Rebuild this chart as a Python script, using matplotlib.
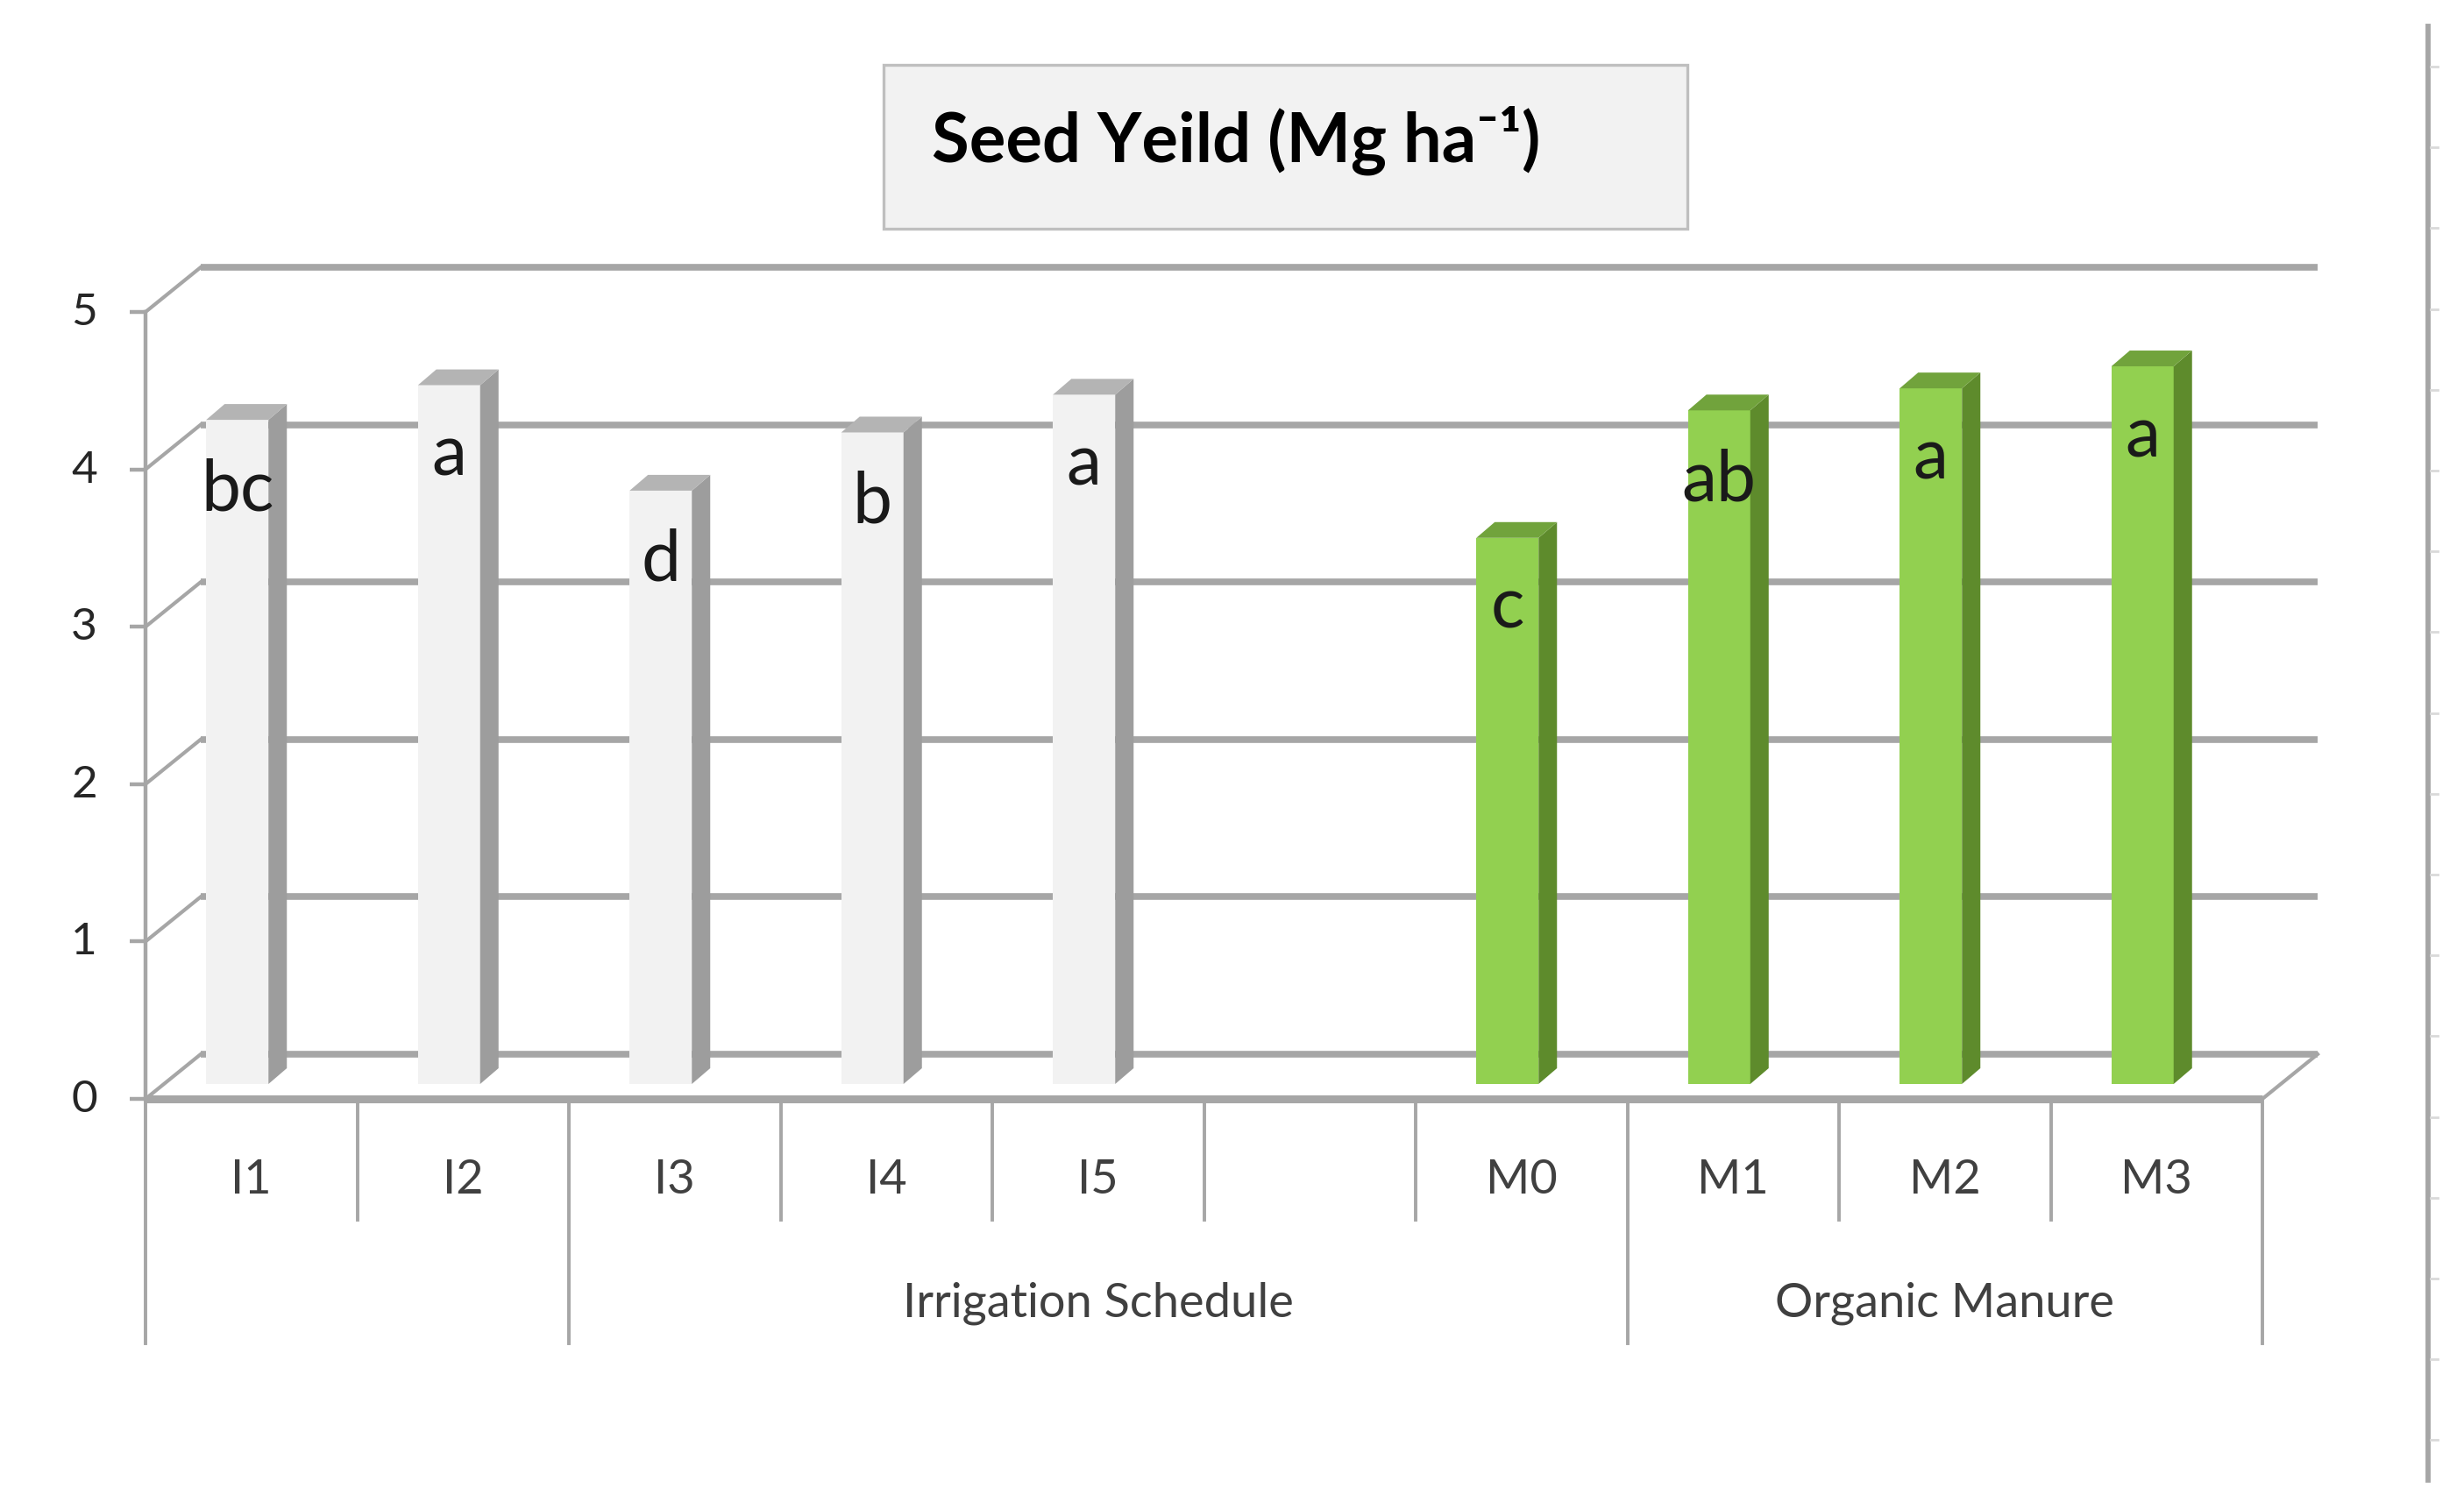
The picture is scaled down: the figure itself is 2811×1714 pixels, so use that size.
import matplotlib
matplotlib.use("Agg")
import matplotlib.pyplot as plt
from matplotlib.patches import Polygon, Rectangle
from matplotlib.lines import Line2D

plt.rcParams['font.family'] = ['Lato', 'DejaVu Sans']

# ---------------- data ----------------
categories = ["I1", "I2", "I3", "I4", "I5", "", "M0", "M1", "M2", "M3"]
seed_yield = [4.22, 4.44, 3.77, 4.14, 4.38, None, 3.47, 4.28, 4.42, 4.56]
letters = ["bc", "a", "d", "b", "a", "", "c", "ab", "a", "a"]
group_names = ["", "Irrigation Schedule", "Organic Manure"]
group_bounds = [(0, 2), (2, 7), (7, 10)]
y_ticks = [0, 1, 2, 3, 4, 5]
title = "Seed Yeild (Mg ha\u207b\u00b9)"

# ---------------- figure geometry ----------------
W, H, DPI = 2811, 1715, 100
fig = plt.figure(figsize=(W / DPI, H / DPI), dpi=DPI)
fig.patch.set_facecolor("white")

AX_L, AX_R, AX_B, AX_T = 150, 2565, 1238, 340   # pixel box of the bar plane
ax = fig.add_axes([AX_L / W, (H - AX_B) / H, (AX_R - AX_L) / W, (AX_B - AX_T) / H])
ax.set_xlim(-0.5, 9.5)
ax.set_ylim(0, 5)
ax.axis("off")

XU = (AX_R - AX_L) / 10.0     # px per category
YU = (AX_B - AX_T) / 5.0      # px per unit


def dx(p):
    return p / XU


def dy(p):
    return p / YU


def pt(p):
    return p * 72.0 / DPI


FX, FY = dx(16), dy(-17)      # front plane offset
BX, BY = dx(79), dy(34)       # back wall offset

GRID = "#A6A6A6"
TXT = "#404040"

# back wall gridlines
for v in y_ticks:
    ax.plot([-0.5 + BX, 9.5 + BX], [v + BY, v + BY], color=GRID, lw=5.5,
            solid_capstyle="butt", clip_on=False, zorder=1)
    # side wall diagonals
    ax.plot([-0.5 + FX, -0.5 + BX], [v + FY, v + BY], color=GRID, lw=3,
            clip_on=False, zorder=1)
    # ticks on front axis
    ax.plot([-0.5 + FX - dx(18), -0.5 + FX], [v + FY, v + FY], color=GRID,
            lw=3.2, solid_capstyle="butt", clip_on=False, zorder=2)
    ax.text(-0.5 + FX - dx(55), v + FY, str(v), ha="right", va="center",
            fontsize=37, color="#262626")

# front vertical axis
ax.plot([-0.5 + FX, -0.5 + FX], [FY, 5 + FY], color=GRID, lw=3.2,
        clip_on=False, zorder=2)
# floor front edge and right diagonal
ax.plot([-0.5 + FX, 9.5 + FX], [FY, FY], color=GRID, lw=6.5,
        solid_capstyle="butt", clip_on=False, zorder=2)
ax.plot([9.5 + FX, 9.5 + BX], [FY, BY], color=GRID, lw=3,
        clip_on=False, zorder=2)

# ---------------- bars ----------------
BW = dx(71)
DDX, DDY = dx(21), dy(18)
for i, (cat, v, lab) in enumerate(zip(categories, seed_yield, letters)):
    if v is None:
        continue
    if cat.startswith("M"):
        fc, sc, tc = "#92D050", "#5E8B2C", "#71A33C"
    else:
        fc, sc, tc = "#F2F2F2", "#9D9D9D", "#B4B4B4"
    ax.bar(i, v, width=BW, color=fc, edgecolor="none", zorder=3)
    xr = i + BW / 2
    xl = i - BW / 2
    ax.add_patch(Polygon([(xr, 0), (xr, v), (xr + DDX, v + DDY), (xr + DDX, DDY)],
                         closed=True, facecolor=sc, edgecolor="none",
                         zorder=3, clip_on=False))
    ax.add_patch(Polygon([(xl, v), (xr, v), (xr + DDX, v + DDY), (xl + DDX, v + DDY)],
                         closed=True, facecolor=tc, edgecolor="none",
                         zorder=3, clip_on=False))
    ax.annotate(lab, (i, v), xytext=(0, pt(-42)), textcoords="offset points",
                ha="center", va="top", fontsize=58, color="#1A1A1A", zorder=5)

# ---------------- category axis (multi-level) ----------------
long_bounds = sorted(set(b for g in group_bounds for b in g))
for k in range(len(categories) + 1):
    x = -0.5 + k + FX
    y_end = dy(-296) if k in long_bounds else dy(-155)
    ax.plot([x, x], [FY, y_end], color=GRID, lw=2.8, clip_on=False, zorder=2)

for i, cat in enumerate(categories):
    ax.annotate(cat, (i + FX, 0), xytext=(0, pt(-108)), textcoords="offset points",
                ha="center", va="center", fontsize=39, color=TXT)

for name, (b0, b1) in zip(group_names, group_bounds):
    xc = (b0 + b1) / 2.0 - 0.5 + FX
    ax.annotate(name, (xc, 0), xytext=(0, pt(-249)), textcoords="offset points",
                ha="center", va="center", fontsize=39, color=TXT)

# ---------------- title box ----------------
fig.add_artist(Rectangle((1008 / W, 1 - 262 / H), (1925 - 1008) / W, (262 - 75) / H,
                         transform=fig.transFigure, facecolor="#F2F2F2",
                         edgecolor="#BFBFBF", lw=2.4))
fig.text(1063 / W, 1 - 160 / H, title, ha="left", va="center", fontsize=56,
         fontweight="bold", color="black")

# ---------------- right-edge artifact line ----------------
fig.add_artist(Line2D([2770 / W, 2770 / W], [1 - 31 / H, 1 - 1690 / H],
                      transform=fig.transFigure, color=GRID, lw=4.2))
for k in range(18):
    yy = 1 - (77 + 92.2 * k) / H
    fig.add_artist(Line2D([2773 / W, 2781 / W], [yy, yy], transform=fig.transFigure,
                          color="#D9D9D9", lw=2))

fig.savefig("out.png", dpi=DPI)
